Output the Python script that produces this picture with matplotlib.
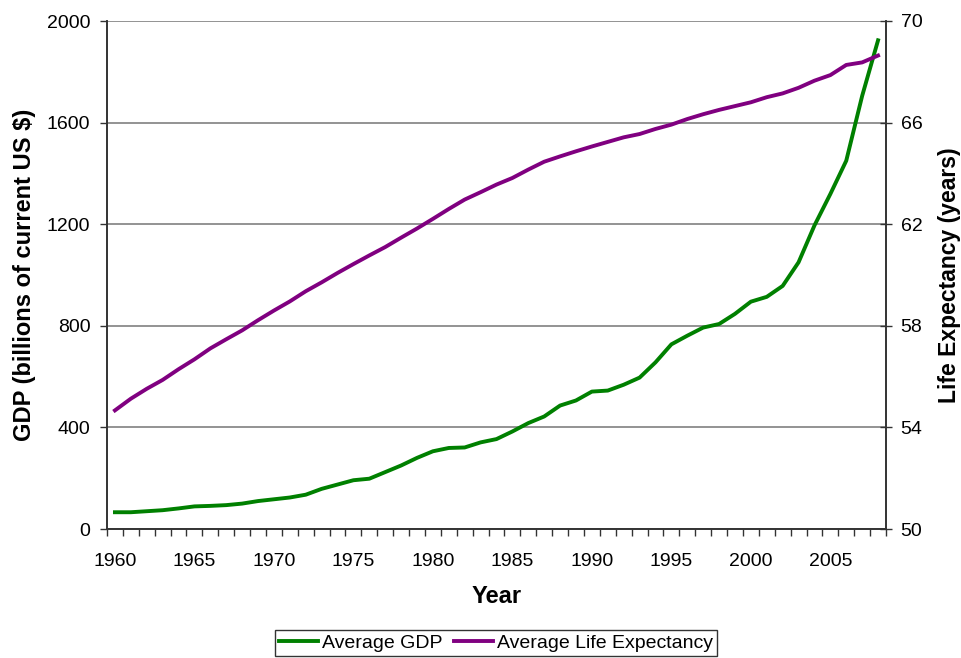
import numpy as np
import matplotlib
matplotlib.use("Agg")
import matplotlib.pyplot as plt

plt.rcParams['font.family'] = ['Liberation Sans', 'DejaVu Sans']

years = list(range(1960, 2009))
gdp = [66, 66, 70, 74, 81, 89, 91, 94, 100, 110,
       117, 124, 135, 158, 175, 192, 198, 224, 250, 280,
       306, 319, 321, 341, 354, 384, 417, 443, 486, 506,
       541, 545, 568, 596, 656, 727, 761, 793, 807, 847,
       895, 914, 957, 1050, 1195, 1319, 1450, 1705, 1924]
life = [54.67, 55.13, 55.52, 55.87, 56.29, 56.68, 57.11, 57.47, 57.82, 58.22,
        58.60, 58.96, 59.36, 59.71, 60.08, 60.43, 60.77, 61.10, 61.47, 61.83,
        62.21, 62.60, 62.97, 63.26, 63.56, 63.82, 64.15, 64.46, 64.67, 64.87,
        65.06, 65.24, 65.42, 65.55, 65.75, 65.92, 66.14, 66.33, 66.50, 66.65,
        66.80, 67.00, 67.15, 67.37, 67.65, 67.87, 68.27, 68.37, 68.64]
label_years = [1960, 1965, 1970, 1975, 1980, 1985, 1990, 1995, 2000, 2005]
gdp_ticks = [0, 400, 800, 1200, 1600, 2000]
life_ticks = [50, 54, 58, 62, 66, 70]

fig = plt.figure(figsize=(9.61, 6.58), dpi=100)
ax = fig.add_axes([107/961, 1-529/658, (886-107)/961, (529-21)/658])
ax2 = ax.twinx()

x = np.arange(len(years))
l1, = ax.plot(x, gdp, color='#008000', lw=2.8, label='Average GDP', solid_joinstyle='round')
l2, = ax2.plot(x, life, color='#800080', lw=2.8, label='Average Life Expectancy', solid_joinstyle='round')

ax.set_xlim(-0.5, len(years) - 0.5)
ax.set_ylim(0, 2000)
ax2.set_ylim(50, 70)

ax.set_yticks(gdp_ticks)
ax.set_yticklabels([str(v) for v in gdp_ticks], fontsize=14)
ax2.set_yticks(life_ticks)
ax2.set_yticklabels([str(v) for v in life_ticks], fontsize=14)

ax.set_xticks(np.arange(-0.5, len(years), 1.0))
ax.set_xticklabels([])
ax.set_xticks([years.index(y) for y in label_years], minor=True)
ax.set_xticklabels([str(y) for y in label_years], minor=True, fontsize=14)
ax.tick_params(axis='x', which='major', direction='out', length=5, width=1, color='#333333')
ax.tick_params(axis='x', which='minor', length=0, pad=17)
ax.tick_params(axis='y', direction='out', length=5, width=1, color='#333333', pad=7)
ax2.tick_params(axis='y', direction='inout', length=9, width=1, color='#333333', pad=6)

ax.yaxis.grid(True, color='#808080', lw=1.2)
ax.set_axisbelow(True)

for a in (ax, ax2):
    a.spines['top'].set_visible(False)
    for s in ('left', 'right', 'bottom'):
        a.spines[s].set_color('#333333')
        a.spines[s].set_linewidth(1.2)

ax.set_xlabel('Year', fontsize=17, fontweight='bold', labelpad=11)
ax.set_ylabel('GDP (billions of current US $)', fontsize=17, fontweight='bold', labelpad=7.5)
ax2.set_ylabel('Life Expectancy (years)', fontsize=16.5, fontweight='bold', labelpad=11)

leg = fig.legend(handles=[l1, l2], loc='center', bbox_to_anchor=(496/961, 1-643/658),
                 ncol=2, fontsize=14, frameon=True, fancybox=False, edgecolor='black',
                 handlelength=2.0, handletextpad=0.2, columnspacing=0.6, borderpad=0.2,
                 borderaxespad=0)
leg.get_frame().set_linewidth(1.0)

fig.savefig('out.png', dpi=100)
